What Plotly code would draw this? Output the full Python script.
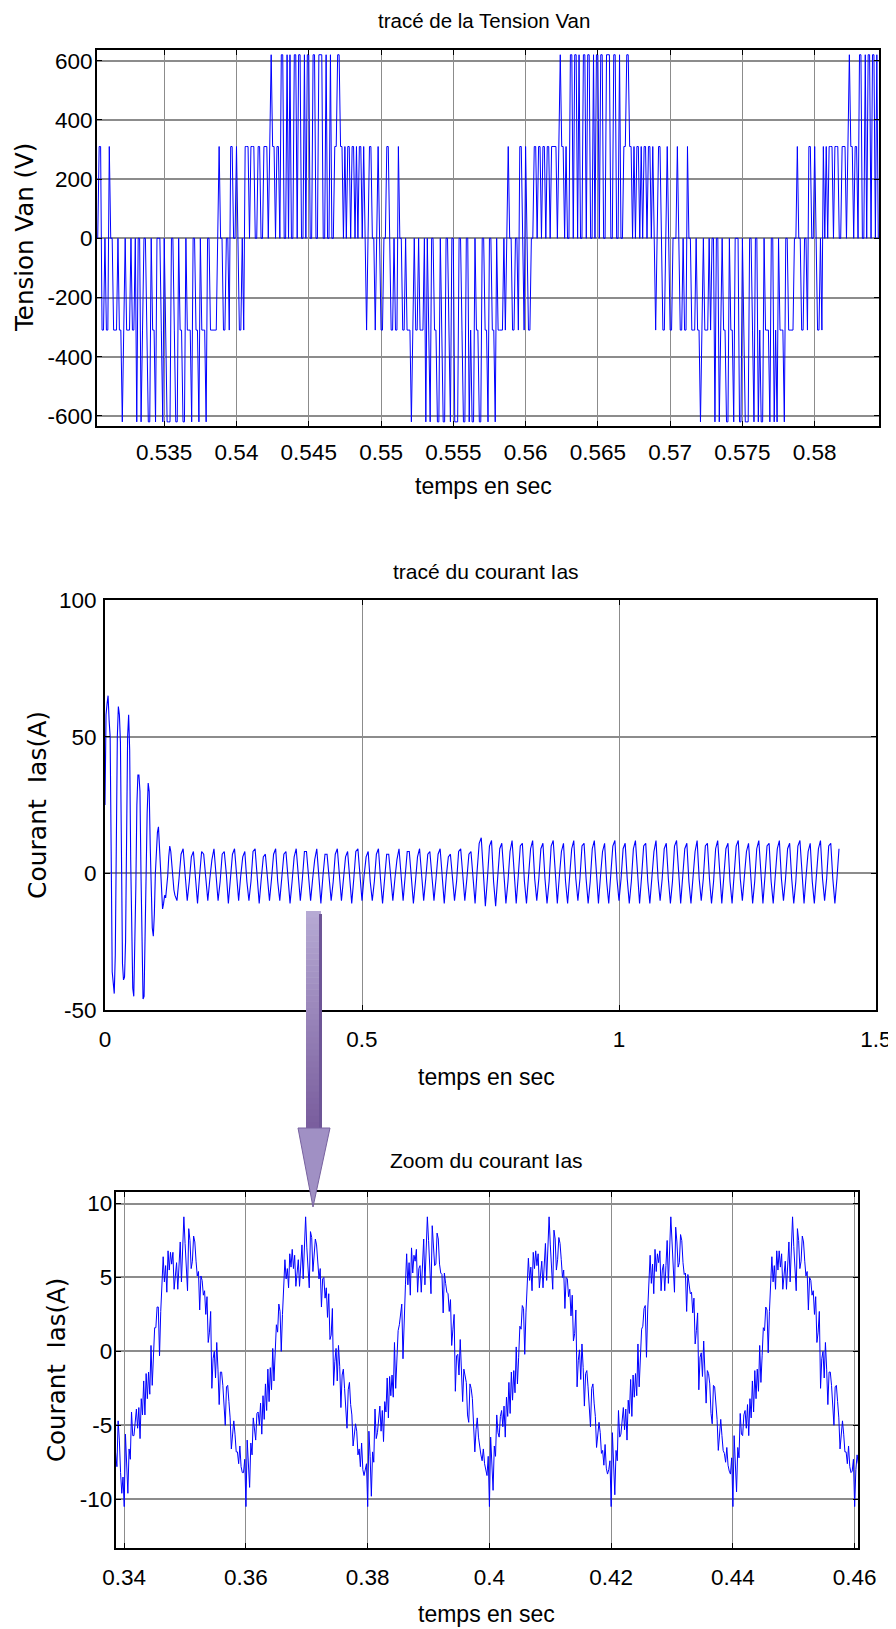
import numpy as np
import plotly.graph_objects as go

# page is 896x1629; the html body keeps its default 8 px margin, so the figure is
# drawn 8 px in and everything below is placed in page pixels minus that offset.
PAGE_W, PAGE_H = 896, 1629
OFF = 8
W, H = PAGE_W - OFF, PAGE_H - OFF
FONT_H = "Liberation Sans, Arial, sans-serif"
FONT_V = "DejaVu Sans, Verdana, sans-serif"

# ---------------- Tension Van (V): one value every 0.1 ms from 0.5303 s ----------------
van_t0 = 0.5303
van_dt = 0.0001
van_values = [
    0, 0, 310, 310, -310, -310, 0, -310, -310, 310,
    0, 0, -310, -310, -310, 0, -310, -310, -620, -310,
    0, -310, -310, -310, 0, -310, -310, 0, -620, 0,
    0, -620, -310, 0, 0, -310, -620, -620, 0, -310,
    -310, -620, 0, 0, 0, -310, -620, 0, -310, -620,
    -620, -620, 0, 0, -310, -620, -620, 0, -310, -310,
    -620, -620, 0, -310, -310, -310, -620, 0, 0, -310,
    -310, -620, 0, -310, -310, -310, -620, 0, 0, -310,
    -310, -310, -310, -310, 0, 310, 0, 0, -310, -310,
    0, 0, -310, 310, 310, 0, 0, 310, 0, -310,
    -310, 0, -310, 310, 310, 310, 0, 310, 310, 310,
    0, 0, 310, 310, 0, 0, 310, 310, 310, 0,
    310, 620, 310, 310, 0, 310, 310, 0, 620, 620,
    0, 0, 620, 0, 620, 0, 0, 620, 620, 0,
    620, 620, 0, 0, 620, 0, 620, 620, 0, 0,
    620, 620, 0, 0, 620, 620, 620, 0, 0, 620,
    0, 0, 620, 0, 0, 310, 310, 620, 620, 310,
    310, 0, 310, 0, 310, 310, 0, 310, 310, 0,
    310, 0, 310, 310, 0, 310, 0, -310, 0, 310,
    310, 0, 0, -310, 0, 310, 0, -310, -310, 0,
    0, 310, 310, 0, -310, -310, 0, -310, -310, 310,
    0, 0, -310, -310, 0, -310, -310, -310, -620, -310,
    0, -310, -310, 0, -310, -310, -310, 0, -620, 0,
    -310, -620, 0, 0, -310, -310, -620, -620, 0, -310,
    -620, -620, 0, 0, -310, -620, 0, 0, -620, -620,
    -620, 0, 0, -310, -620, -620, 0, 0, -620, -310,
    -620, -620, 0, -310, -310, -620, -620, 0, 0, -310,
    -310, -620, 0, 0, -310, -310, -620, 0, -310, -310,
    -310, -310, 0, -310, 0, 310, 0, 0, -310, -310,
    0, 0, -310, 310, 310, 0, -310, 310, 0, -310,
    -310, 0, 0, 310, 310, 0, 310, 310, 0, 310,
    310, 0, 310, 310, 0, 310, 310, 310, 310, 0,
    310, 620, 310, 310, 0, 310, 0, 0, 620, 620,
    0, 620, 620, 0, 620, 0, 0, 620, 620, 0,
    620, 620, 0, 0, 620, 0, 620, 620, 0, 620,
    620, 0, 0, 620, 620, 620, 0, 0, 620, 620,
    0, 0, 620, 0, 0, 310, 310, 620, 620, 310,
    310, 0, 310, 0, 310, 310, 0, 310, 0, 310,
    310, 0, 310, 310, 0, 310, 0, -310, 0, 310,
    310, 0, -310, -310, 0, 310, 0, -310, -310, 0,
    0, 0, 310, 0, -310, -310, 0, -310, -310, 310,
    0, 0, -310, -310, -310, 0, -310, -310, -620, -310,
    0, -310, -310, -310, 0, -310, 0, 0, -620, 0,
    0, -620, -310, 0, -310, -310, -620, -620, 0, -310,
    -310, -620, 0, 0, 0, -620, -620, 0, -310, -620,
    -620, -620, 0, 0, -310, -620, 0, 0, -620, -310,
    -620, -620, 0, -310, -310, -310, -620, 0, 0, -620,
    -310, -620, 0, -310, -310, -310, -620, 0, 0, -310,
    -310, -310, -310, 0, 0, 310, 0, 0, -310, -310,
    0, 0, -310, 310, 310, 0, 0, 310, 0, -310,
    -310, 0, -310, 310, 0, 310, 0, 310, 310, 310,
    0, 310, 310, 310, 0, 0, 310, 310, 310, 0,
    310, 620, 310, 310, 0, 310, 310, 0, 620, 620,
    0, 0, 620, 0, 620, 620, 0, 620, 620, 0,
    620, 0,
]

# ---------------- Courant Ias (A) ----------------
# start-up part, one value every 2 ms from 0 s
ias_start_dt = 0.002
ias_start = [
    25, 58, 62, 65, 56, 50, 8, -36, -40, -44,
    -30, 21, 50, 61, 58, 48, 5, -33, -39, -38,
    -25, 15, 50, 58, 45, 5, -30, -42, -45, -30,
    -5, 25, 36, 36, 30, 0, -30, -46, -45, -20,
    5, 22, 33, 30, 10, -10, -20, -23, -15, 0,
    8, 15, 17, 10, 0, -8, -13, -11, -8, -9,
    -6, -1, 6, 10, 8, 3, -2, -6, -8, -9,
    -10,
]
# steady part, one value every 4 ms from 0.144 s
ias_steady_t0 = 0.144
ias_steady_dt = 0.004
ias_steady = [
    -2, 7, 9, -2, -10,   -3, 6, 8, -1, -11,   -1, 8, 7, -3, -10,   -2, 5, 9, -2, -10,
    -3, 7, 8, 0, -11,    -2, 7, 9, -2, -10,   -1, 6, 8, -3, -10,   -3, 8, 9, -1, -11,
    -2, 6, 7, -2, -10,   -2, 7, 9, -3, -10,   -1, 7, 8, -2, -11,   -3, 6, 9, -1, -10,
    -2, 8, 8, -2, -10,   -2, 5, 9, -3, -11,   -1, 7, 7, -2, -10,   -3, 7, 9, 0, -10,
    -2, 6, 8, -2, -11,   -2, 8, 9, -1, -10,   -1, 6, 8, -3, -10,   -3, 7, 9, -2, -11,
    -2, 7, 7, -1, -10,   -2, 5, 9, -2, -10,   -1, 8, 8, -3, -11,   -3, 6, 9, -2, -10,
    -2, 7, 8, -1, -10,   -2, 7, 9, -2, -11,   -1, 6, 7, -3, -10,   -3, 8, 9, -2, -10,
    -2, 7, 8, -1, -11,
    1, 11, 13, 0, -12,   -2, 10, 12, -3, -12,  -2, 9, 11, -2, -11,  -3, 8, 12, -1, -11,
    -1, 10, 11, -3, -11, -2, 9, 12, -2, -10,  -2, 9, 11, -2, -11,  -3, 10, 12, -1, -11,
    -1, 8, 11, -3, -11,  -2, 9, 12, -2, -10,  -2, 10, 11, -2, -11, -3, 9, 12, -1, -11,
    -1, 8, 11, -3, -11,  -2, 10, 12, -2, -10, -2, 9, 11, -2, -11,  -3, 9, 12, -1, -11,
    -1, 10, 11, -3, -11, -2, 8, 12, -2, -10,  -2, 9, 11, -2, -11,  -3, 10, 12, -1, -11,
    -1, 9, 11, -3, -11,  -2, 8, 12, -2, -10,  -2, 10, 11, -2, -11, -3, 9, 12, -1, -11,
    -1, 9, 11, -3, -11,  -2, 10, 12, -2, -10, -2, 8, 11, -2, -11,  -3, 9, 12, -1, -11,
    -1, 10, 11, -3, -11, -2, 9, 12, -2, -10,  -2, 9, 11, -2, -11,  -3, 10, 12, -1, -11,
    -1, 8, 11, -3, -11,  -2, 9, 12, -2, -10,  -2, 10, 11, -2, -11,
    -2, 9,
]

# ---------------- Zoom du courant Ias (A): one value every 0.2 ms from 0.3384 s ----------------
zoom_t0 = 0.3384
zoom_dt = 0.0002
zoom_ias = [
    -6.1, -6.8, -7.8, -4.7, -6.0, -8.2, -9.6, -8.5,
    # 0.34
    -10.5, -5.6, -7.3, -9.6, -6.6, -7.3, -4.1, -5.7, -5.7, -4.5,
    -3.9, -5.2, -3.8, -5.9, -3.2, -4.3, -2.0, -4.3, -1.5, -3.2,
    -1.4, -2.9, 0.4, -2.3, -0.3, 1.6, 1.6, 3.0, 3.0, -0.3,
    2.7, 4.7, 6.4, 4.7, 5.8, 4.0, 6.8, 5.5, 6.7, 5.9,
    6.7, 4.2, 5.4, 6.0, 4.2, 5.9, 7.4, 4.7, 7.0, 9.1,
    7.3, 5.8, 4.1, 8.3, 7.5, 5.6, 6.1, 7.8, 7.4, 6.1,
    5.1, 5.4, 2.8, 5.1, 4.8, 3.8, 4.1, 2.5, 3.7, 0.6,
    1.3, 2.7, -2.5, -0.5, 0.0, -1.8, 0.6, -1.2, -3.6, -1.4,
    -1.4, -2.3, -4.1, -5.0, -2.4, -2.3, -3.4, -4.5, -6.6, -5.5,
    -4.7, -5.6, -6.8, -6.8, -7.6, -6.4, -7.8, -8.2, -8.2, -7.3,
    # 0.36
    -10.5, -6.0, -7.8, -9.2, -6.2, -7.0, -4.5, -5.4, -6.0, -4.2,
    -4.1, -5.0, -3.5, -5.6, -3.0, -4.6, -2.2, -4.0, -1.2, -3.4,
    -1.1, -2.6, 0.2, -2.0, -0.5, 1.8, 1.3, 3.2, 2.7, 0.0,
    2.5, 4.9, 6.2, 4.9, 5.6, 4.3, 6.6, 5.7, 6.9, 5.6,
    6.5, 4.4, 5.2, 6.2, 4.4, 6.1, 7.2, 4.9, 7.2, 9.1,
    7.0, 5.6, 4.3, 8.1, 7.7, 5.4, 6.3, 7.6, 7.2, 6.3,
    4.9, 5.6, 3.0, 4.9, 5.0, 3.6, 4.3, 2.3, 3.9, 0.8,
    1.1, 2.9, -2.3, -0.7, 0.2, -2.0, 0.4, -1.0, -3.8, -1.6,
    -1.2, -2.5, -3.9, -5.2, -2.6, -2.1, -3.6, -4.3, -6.4, -5.7,
    -4.9, -5.4, -7.0, -6.6, -7.8, -6.2, -8.0, -8.4, -7.9, -7.6,
    # 0.38
    -10.5, -5.4, -7.1, -9.8, -6.8, -7.5, -3.9, -5.9, -5.5, -4.7,
    -3.7, -5.4, -4.0, -6.1, -3.4, -4.1, -1.8, -4.5, -1.7, -3.0,
    -1.6, -3.1, 0.6, -2.5, -0.1, 1.4, 1.8, 2.8, 3.2, -0.5,
    2.9, 4.5, 6.6, 4.5, 6.0, 3.8, 7.0, 5.3, 6.5, 6.1,
    6.9, 4.0, 5.6, 5.8, 4.0, 5.7, 7.6, 4.5, 6.8, 9.1,
    7.5, 6.0, 3.9, 8.5, 7.3, 5.8, 5.9, 8.0, 7.6, 5.9,
    5.3, 5.2, 2.6, 5.3, 4.6, 4.0, 3.9, 2.7, 3.5, 0.4,
    1.5, 2.5, -2.7, -0.3, -0.2, -1.6, 0.8, -1.4, -3.4, -1.2,
    -1.6, -2.1, -4.3, -4.8, -2.2, -2.5, -3.2, -4.7, -6.8, -5.3,
    -4.5, -5.8, -6.6, -7.0, -7.4, -6.6, -7.6, -8.0, -8.4, -7.1,
    # 0.40
    -10.5, -5.8, -7.5, -9.4, -6.4, -7.1, -4.3, -5.5, -5.8, -4.4,
    -4.0, -5.1, -3.7, -5.8, -3.1, -4.4, -2.1, -4.2, -1.4, -3.3,
    -1.3, -2.8, 0.3, -2.2, -0.4, 1.7, 1.5, 3.1, 2.9, -0.2,
    2.6, 4.8, 6.3, 4.8, 5.7, 4.1, 6.7, 5.6, 6.8, 5.8,
    6.6, 4.3, 5.3, 6.1, 4.3, 6.0, 7.3, 4.8, 7.1, 9.1,
    7.2, 5.7, 4.2, 8.2, 7.6, 5.5, 6.2, 7.7, 7.3, 6.2,
    5.0, 5.5, 2.9, 5.0, 4.9, 3.7, 4.2, 2.4, 3.8, 0.7,
    1.2, 2.8, -2.4, -0.6, 0.1, -1.9, 0.5, -1.1, -3.7, -1.5,
    -1.3, -2.4, -4.0, -5.1, -2.5, -2.2, -3.5, -4.4, -6.5, -5.6,
    -4.8, -5.5, -6.9, -6.7, -7.7, -6.3, -7.9, -8.3, -8.0, -7.4,
    # 0.42
    -10.5, -5.5, -7.2, -9.7, -6.7, -7.4, -4.0, -5.8, -5.6, -4.6,
    -3.8, -5.3, -3.9, -6.0, -3.3, -4.2, -1.9, -4.4, -1.6, -3.1,
    -1.5, -3.0, 0.5, -2.4, -0.2, 1.5, 1.7, 2.9, 3.1, -0.4,
    2.8, 4.6, 6.5, 4.6, 5.9, 3.9, 6.9, 5.4, 6.6, 6.0,
    6.8, 4.1, 5.5, 5.9, 4.1, 5.8, 7.5, 4.6, 6.9, 9.1,
    7.4, 5.9, 4.0, 8.4, 7.4, 5.7, 6.0, 7.9, 7.5, 6.0,
    5.2, 5.3, 2.7, 5.2, 4.7, 3.9, 4.0, 2.6, 3.6, 0.5,
    1.4, 2.6, -2.6, -0.4, -0.1, -1.7, 0.7, -1.3, -3.5, -1.3,
    -1.5, -2.2, -4.2, -4.9, -2.3, -2.4, -3.3, -4.6, -6.7, -5.4,
    -4.6, -5.7, -6.7, -6.9, -7.5, -6.5, -7.7, -8.1, -8.3, -7.2,
    # 0.44
    -10.5, -5.7, -7.4, -9.5, -6.5, -7.2, -4.2, -5.6, -5.7, -4.3,
    -4.0, -5.2, -3.6, -5.7, -3.2, -4.5, -2.0, -4.1, -1.3, -3.2,
    -1.2, -2.7, 0.4, -2.1, -0.3, 1.6, 1.4, 3.0, 2.8, -0.1,
    2.7, 4.8, 6.4, 4.7, 5.8, 4.2, 6.8, 5.5, 6.8, 5.7,
    6.6, 4.2, 5.4, 6.1, 4.2, 6.0, 7.4, 4.7, 7.0, 9.1,
    7.1, 5.8, 4.1, 8.3, 7.5, 5.6, 6.1, 7.8, 7.4, 6.1,
    5.1, 5.4, 2.8, 5.0, 4.8, 3.8, 4.1, 2.5, 3.7, 0.6,
    1.3, 2.7, -2.5, -0.5, 0.0, -1.8, 0.6, -1.2, -3.6, -1.4,
    -1.4, -2.3, -4.1, -5.0, -2.4, -2.3, -3.4, -4.5, -6.6, -5.5,
    -4.7, -5.6, -6.8, -6.8, -7.6, -6.4, -7.8, -8.2, -8.1, -7.3,
    # 0.46
    -10.5, -8.0, -7.0, -7.6,
]

# ---------------- ticks ----------------
van_xticks = [0.535, 0.54, 0.545, 0.55, 0.555, 0.56, 0.565, 0.57, 0.575, 0.58]
van_xlabels = ["0.535", "0.54", "0.545", "0.55", "0.555", "0.56", "0.565", "0.57", "0.575", "0.58"]
van_yticks = [-600, -400, -200, 0, 200, 400, 600]
van_ylabels = ["-600", "-400", "-200", "0", "200", "400", "600"]
ias_xticks = [0, 0.5, 1, 1.5]
ias_xlabels = ["0", "0.5", "1", "1.5"]
ias_yticks = [-50, 0, 50, 100]
ias_ylabels = ["-50", "0", "50", "100"]
zoom_xticks = [0.34, 0.36, 0.38, 0.4, 0.42, 0.44, 0.46]
zoom_xlabels = ["0.34", "0.36", "0.38", "0.4", "0.42", "0.44", "0.46"]
zoom_yticks = [-10, -5, 0, 5, 10]
zoom_ylabels = ["-10", "-5", "0", "5", "10"]

# ---------------- time bases ----------------
van_t = van_t0 + van_dt * np.arange(len(van_values))
ias_t = np.concatenate([ias_start_dt * np.arange(len(ias_start)),
                        ias_steady_t0 + ias_steady_dt * np.arange(len(ias_steady))])
ias_values = ias_start + ias_steady
zoom_t = zoom_t0 + zoom_dt * np.arange(len(zoom_ias))

BLUE = "#0000ff"
fig = go.Figure()
fig.add_trace(go.Scatter(x=van_t, y=van_values, mode="lines", line=dict(color=BLUE, width=1),
                         xaxis="x", yaxis="y", name="Van"))
fig.add_trace(go.Scatter(x=ias_t, y=ias_values, mode="lines", line=dict(color=BLUE, width=1.1),
                         xaxis="x2", yaxis="y2", name="Ias"))
fig.add_trace(go.Scatter(x=zoom_t, y=zoom_ias, mode="lines", line=dict(color=BLUE, width=1),
                         xaxis="x3", yaxis="y3", name="Ias zoom"))


def px(x):
    return (x - OFF) / W


def py(y):
    return 1 - (y - OFF) / H


TICK = 22.5


def ax(**kw):
    d = dict(showline=True, linecolor="black", linewidth=2, mirror="ticks",
             ticks="inside", ticklen=5, tickwidth=1, tickcolor="black",
             showgrid=True, gridcolor="#8c8c8c", gridwidth=1, zeroline=False,
             automargin=False, ticklabeloverflow="allow",
             tickfont=dict(family=FONT_H, size=TICK, color="black"))
    d.update(kw)
    return d


layout = dict(
    width=W, height=H, margin=dict(l=0, r=0, t=0, b=0, autoexpand=False),
    paper_bgcolor="white", plot_bgcolor="white", showlegend=False,
    font=dict(family=FONT_H, color="black"),
    xaxis=ax(domain=[px(97), px(879)], range=[0.53035, 0.58445], anchor="y",
             tickvals=van_xticks, ticktext=van_xlabels, ticklabelstandoff=5),
    yaxis=ax(domain=[py(426), py(50)], range=[-634, 636], anchor="x",
             tickvals=van_yticks, ticktext=van_ylabels, gridwidth=1.5, ticklabelstandoff=-2),
    xaxis2=ax(domain=[px(105), px(876)], range=[0, 1.5], anchor="y2",
              tickvals=ias_xticks, ticktext=ias_xlabels, ticklabelstandoff=8),
    yaxis2=ax(domain=[py(1010), py(600)], range=[-50, 100], anchor="x2",
              tickvals=ias_yticks, ticktext=ias_ylabels, gridwidth=1.5, ticklabelstandoff=2),
    xaxis3=ax(domain=[px(115.7), px(858.3)], range=[0.3386, 0.4606], anchor="y3",
              tickvals=zoom_xticks, ticktext=zoom_xlabels, ticklabelstandoff=8),
    yaxis3=ax(domain=[py(1548), py(1191.7)], range=[-13.3, 10.8], anchor="x3",
              tickvals=zoom_yticks, ticktext=zoom_ylabels, gridwidth=1.5, ticklabelstandoff=-3),
)
fig.update_layout(**layout)

# titles / axis labels (page pixel centres)
texts = [
    ("tracé de la Tension Van", 484, 20, 20.5, 0, FONT_H),
    ("temps en sec", 484, 486, 23, 0, FONT_H),
    ("Tension Van (V)", 24, 238, 24.5, -90, FONT_V),
    ("tracé du courant Ias", 486, 571, 21, 0, FONT_H),
    ("temps en sec", 486, 1077, 23, 0, FONT_H),
    ("Courant  Ias(A)", 38, 805, 25, -90, FONT_V),
    ("Zoom du courant Ias", 486, 1160, 21, 0, FONT_H),
    ("temps en sec", 486, 1614, 23, 0, FONT_H),
    ("Courant  Ias(A)", 56, 1370, 24.5, -90, FONT_V),
]
for txt, cx, cy, size, ang, fam in texts:
    fig.add_annotation(text=txt, x=px(cx), y=py(cy), xref="paper", yref="paper",
                       xanchor="center", yanchor="middle", showarrow=False,
                       textangle=ang, font=dict(family=fam, size=size, color="black"))

# decorative purple arrow from the current plot to the zoom
top, base, tip = 911, 1128, 1207
n = 36
c0 = np.array([182, 170, 212])
c1 = np.array([122, 94, 158])
for i in range(n):
    y0 = top + (base - top) * i / n
    y1 = top + (base - top) * (i + 1) / n + 0.5
    c = (c0 + (c1 - c0) * i / (n - 1)).astype(int)
    fig.add_shape(type="rect", xref="paper", yref="paper", layer="above",
                  x0=px(306), x1=px(321), y0=py(y1), y1=py(y0),
                  fillcolor=f"rgb({c[0]},{c[1]},{c[2]})", line=dict(width=0))
fig.add_shape(type="rect", xref="paper", yref="paper", layer="above",
              x0=px(319), x1=px(322), y0=py(base), y1=py(top + 3),
              fillcolor="rgb(110,85,150)", line=dict(width=0))
fig.add_shape(type="path", xref="paper", yref="paper", layer="above",
              path=f"M {px(298)} {py(base)} L {px(330)} {py(base)} L {px(313)} {py(tip)} Z",
              fillcolor="rgb(160,144,196)", line=dict(color="rgb(120,98,160)", width=1))

fig.write_html("out.html", config={"displayModeBar": False})
